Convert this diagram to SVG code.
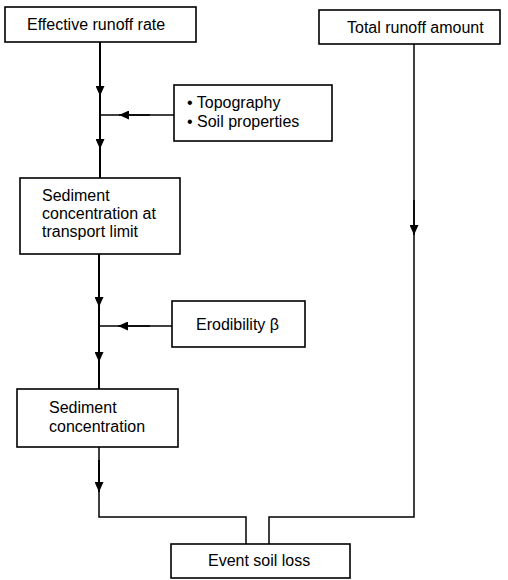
<svg xmlns="http://www.w3.org/2000/svg" width="508" height="580" viewBox="0 0 508 580">
<defs>
<marker id="ah" markerUnits="userSpaceOnUse" markerWidth="10" markerHeight="9" refX="10" refY="4.5" orient="auto">
<path d="M0,0 L10,4.5 L0,9 z" fill="#000"/>
</marker>
<style>
.box{fill:#fff;stroke:#000;stroke-width:1.6}
.t{font-family:"Liberation Sans",Arial,sans-serif;font-size:16px;fill:#000}
.c{fill:none;stroke:#000;stroke-width:2}
.thin{fill:none;stroke:#000;stroke-width:1.5}
</style>
</defs>
<rect width="508" height="580" fill="#fff"/>
<g id="connectors">
<path class="c" d="M100,42 V178"/>
<path class="c" d="M100,60 V96" marker-end="url(#ah)"/>
<path class="c" d="M100,120 V149" marker-end="url(#ah)"/>
<path class="thin" d="M174,115 H101"/>
<path class="thin" d="M150,115 H119" marker-end="url(#ah)"/>
<path class="thin" d="M414,44 V517 H269 V544"/>
<path class="thin" d="M414,200 V235" marker-end="url(#ah)"/>
<path class="c" d="M99,254 V389"/>
<path class="c" d="M99,270 V307" marker-end="url(#ah)"/>
<path class="c" d="M99,330 V362" marker-end="url(#ah)"/>
<path class="thin" d="M172,326 H100"/>
<path class="thin" d="M150,326 H118" marker-end="url(#ah)"/>
<path class="thin" d="M99,447 V517 H246 V544"/>
<path class="c" d="M99,460 V492" marker-end="url(#ah)"/>
</g>
<g id="effective-runoff-rate">
<rect class="box" x="5" y="7" width="191" height="35"/>
<text class="t" x="27" y="30">Effective runoff rate</text>
</g>
<g id="total-runoff-amount">
<rect class="box" x="319" y="10" width="181" height="34"/>
<text class="t" x="347" y="33">Total runoff amount</text>
</g>
<g id="topography">
<rect class="box" x="174" y="85" width="158" height="56"/>
<text class="t" x="187" y="108">• Topography</text>
<text class="t" x="187" y="127">• Soil properties</text>
</g>
<g id="sediment-transport-limit">
<rect class="box" x="20" y="178" width="160" height="76"/>
<text class="t" x="42" y="201">Sediment</text>
<text class="t" x="42" y="219">concentration at</text>
<text class="t" x="42" y="237">transport limit</text>
</g>
<g id="erodibility">
<rect class="box" x="172" y="301" width="133" height="46"/>
<text class="t" x="196" y="330">Erodibility β</text>
</g>
<g id="sediment-concentration">
<rect class="box" x="17" y="389" width="161" height="58"/>
<text class="t" x="49" y="413">Sediment</text>
<text class="t" x="49" y="432">concentration</text>
</g>
<g id="event-soil-loss">
<rect class="box" x="171" y="544" width="179" height="34"/>
<text class="t" x="208" y="566">Event soil loss</text>
</g>
</svg>
